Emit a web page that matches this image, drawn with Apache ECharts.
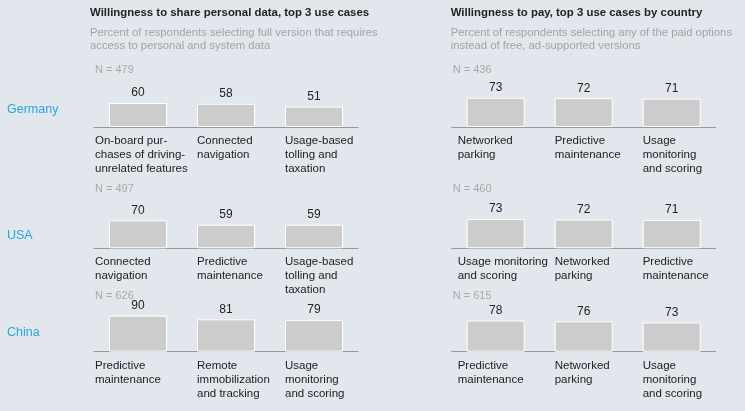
<!DOCTYPE html>
<html>
<head>
<meta charset="utf-8">
<script src="https://cdn.jsdelivr.net/npm/echarts@6/dist/echarts.min.js"></script>
<style>
html,body{margin:0;padding:0;background:#e1e7ed;}
#c{width:745px;height:411px;}
</style>
</head>
<body>
<div id="c"></div>
<script>
// ---- data ----
var countries = ['Germany', 'USA', 'China'];
var leftTitle = 'Willingness to share personal data, top 3 use cases';
var leftSubtitle = 'Percent of respondents selecting full version that requires\naccess to personal and system data';
var rightTitle = 'Willingness to pay, top 3 use cases by country';
var rightSubtitle = 'Percent of respondents selecting any of the paid options\ninstead of free, ad-supported versions';

var shareN = [479, 497, 626];
var payN = [436, 460, 615];

var shareGermanyCats = ['On-board pur-\nchases of driving-\nunrelated features', 'Connected\nnavigation', 'Usage-based\ntolling and\ntaxation'];
var shareGermanyVals = [60, 58, 51];
var shareUSACats = ['Connected\nnavigation', 'Predictive\nmaintenance', 'Usage-based\ntolling and\ntaxation'];
var shareUSAVals = [70, 59, 59];
var shareChinaCats = ['Predictive\nmaintenance', 'Remote\nimmobilization\nand tracking', 'Usage\nmonitoring\nand scoring'];
var shareChinaVals = [90, 81, 79];

var payGermanyCats = ['Networked\nparking', 'Predictive\nmaintenance', 'Usage\nmonitoring\nand scoring'];
var payGermanyVals = [73, 72, 71];
var payUSACats = ['Usage monitoring\nand scoring', 'Networked\nparking', 'Predictive\nmaintenance'];
var payUSAVals = [73, 72, 71];
var payChinaCats = ['Predictive\nmaintenance', 'Networked\nparking', 'Usage\nmonitoring\nand scoring'];
var payChinaVals = [78, 76, 73];

// ---- layout ----
var FONT = 'Arial, "Liberation Sans", sans-serif';
var panels = [
  {cats: [shareGermanyCats, shareUSACats, shareChinaCats], vals: [shareGermanyVals, shareUSAVals, shareChinaVals], n: shareN},
  {cats: [payGermanyCats, payUSACats, payChinaCats], vals: [payGermanyVals, payUSAVals, payChinaVals], n: payN}
];
var panelLeft = [94, 451.7];
var panelWidth = 264;
var baselines = [127, 248.3, 351.7];
var nY = [70.7, 189.3, 296];
var countryY = [110, 236, 333];
var firstLabelShift = [-14, -9];
var barW = 58;

var grids = [], xAxes = [], yAxes = [], series = [];
for (var r = 0; r < 3; r++) {
  for (var p = 0; p < 2; p++) {
    var gi = grids.length;
    grids.push({left: panelLeft[p], width: panelWidth, top: baselines[r] - 40, height: 40});
    xAxes.push({
      type: 'category', gridIndex: gi, data: panels[p].cats[r],
      axisLine: {show: true, lineStyle: {color: '#999', width: 1}},
      axisTick: {show: false}, axisLabel: {show: false}
    });
    yAxes.push({type: 'value', gridIndex: gi, min: 0, max: 100, show: false, splitLine: {show: false}});
    series.push({
      type: 'bar', xAxisIndex: gi, yAxisIndex: gi, data: panels[p].vals[r],
      barWidth: barW, silent: true, animation: false,
      itemStyle: {color: '#cccccc', borderColor: '#ffffff', borderWidth: 1},
      label: {show: true, position: 'top', distance: 4, color: '#222', fontSize: 12, fontFamily: FONT}
    });
  }
}

var graphics = [];
function txt(x, y, s, style) {
  var st = Object.assign({x: x, y: y, text: s, font: '12px ' + FONT, fill: '#222', textVerticalAlign: 'top'}, style || {});
  graphics.push({type: 'text', silent: true, style: st});
}
txt(90, 7.5, leftTitle, {font: 'bold 11.4px ' + FONT, fill: '#222'});
txt(90, 26, leftSubtitle, {font: '11.3px ' + FONT, fill: '#a3a3a3', lineHeight: 13.5});
txt(450.7, 7.5, rightTitle, {font: 'bold 11.4px ' + FONT, fill: '#222'});
txt(450.7, 26, rightSubtitle, {font: '11.3px ' + FONT, fill: '#a3a3a3', lineHeight: 13.5});
for (var r2 = 0; r2 < 3; r2++) {
  txt(7, countryY[r2] - 7, countries[r2], {font: '12.5px ' + FONT, fill: '#2aa5de'});
  txt(95, nY[r2] - 6, 'N = ' + shareN[r2], {font: '11px ' + FONT, fill: '#a8a8a8'});
  txt(452.7, nY[r2] - 6, 'N = ' + payN[r2], {font: '11px ' + FONT, fill: '#a8a8a8'});
}

var chart = echarts.init(document.getElementById('c'));
chart.setOption({
  backgroundColor: '#e1e7ed',
  animation: false,
  grid: grids, xAxis: xAxes, yAxis: yAxes, series: series,
  graphic: graphics
});

// category labels positioned through the axes' own scales
var catGraphics = graphics.slice();
for (var r3 = 0; r3 < 3; r3++) {
  for (var p3 = 0; p3 < 2; p3++) {
    var gi3 = r3 * 2 + p3;
    var cats = panels[p3].cats[r3];
    for (var k = 0; k < cats.length; k++) {
      var pt = chart.convertToPixel({gridIndex: gi3}, [k, 0]);
      var x = pt[0] - barW / 2 + (k === 0 ? firstLabelShift[p3] : 0);
      catGraphics.push({type: 'text', silent: true, style: {
        x: x, y: pt[1] + 7, text: cats[k], font: '11.5px ' + FONT, fill: '#222',
        lineHeight: 14, textVerticalAlign: 'top'
      }});
    }
  }
}
chart.setOption({graphic: catGraphics}, {replaceMerge: ['graphic']});
</script>
</body>
</html>
